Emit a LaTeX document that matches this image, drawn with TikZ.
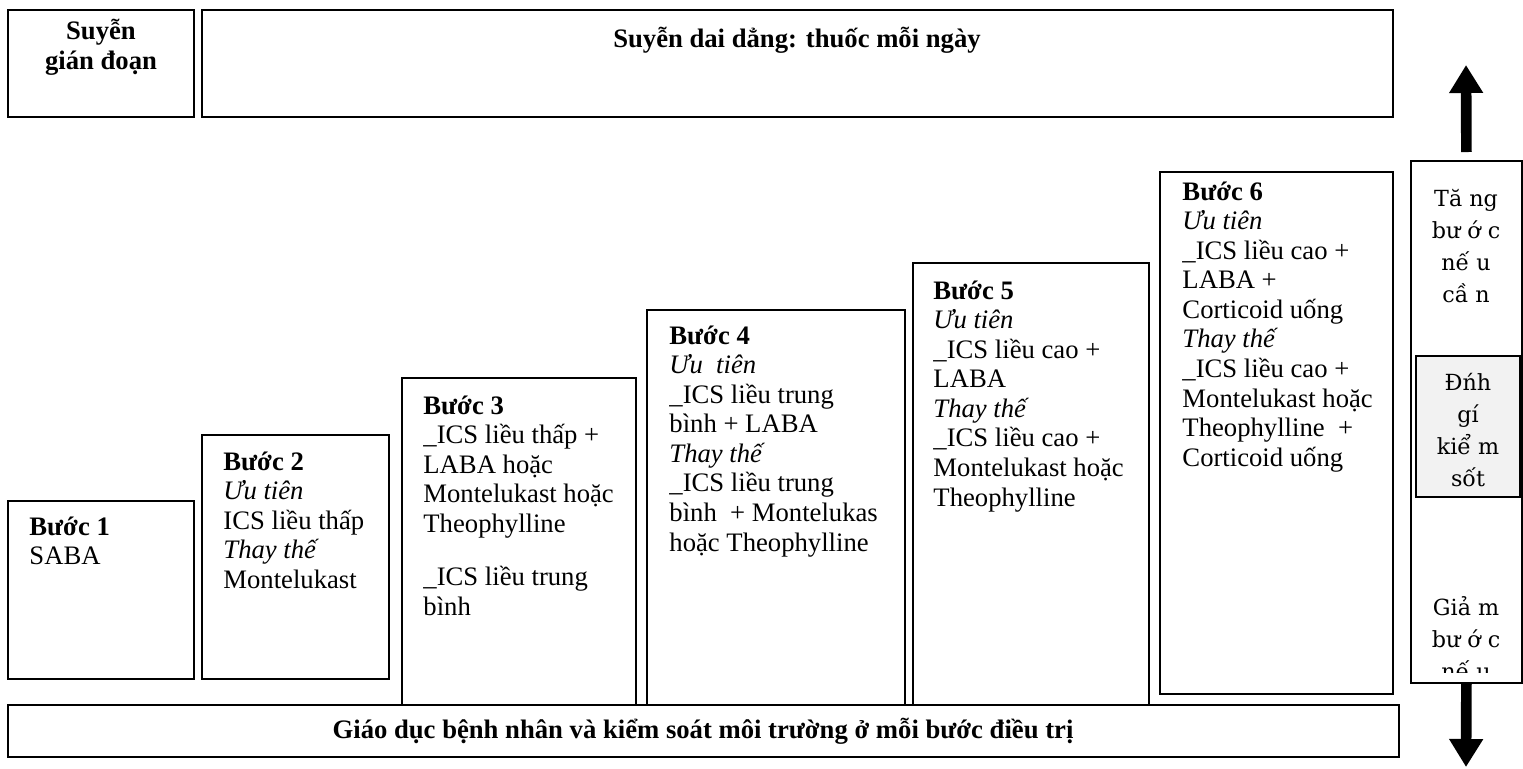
\documentclass[tikz,border=0pt]{standalone}
\usepackage{fontspec}
\setmainfont{Liberation Serif}
\newfontfamily\colfont{DejaVu Serif}
\usetikzlibrary{arrows.meta}

\tikzset{
  box/.style={draw, thick},
  steptxt/.style={anchor=north west, align=left, inner sep=0pt, font=\fontsize{12}{13.3}\selectfont},
  headtxt/.style={align=center, inner sep=0pt, font=\fontsize{12}{13.3}\selectfont\bfseries},
  coltxt/.style={align=center, inner sep=0pt, font=\colfont\fontsize{10}{14.4}\selectfont},
  bigarrow/.style={line width=4.8pt, -{Triangle[width=14.5pt,length=12.6pt]}}
}

\begin{document}
\begin{tikzpicture}[x=0.45pt,y=-0.45pt]
    \useasboundingbox (0,0) rectangle (1523,768);
    % top row
    \draw[box] (8,10) rectangle (194,117);
    \draw[box] (202,10) rectangle (1393,117);
    \node[headtxt] (giandoan) at (101,47) {Suyễn\\gián đoạn};
    \node[headtxt] (daidang) at (797,40) {Suyễn dai dẳng: thuốc mỗi ngày};
    % steps
    \draw[box] (8,501) rectangle (194,679);
    \draw[box] (202,435) rectangle (389,679);
    \draw[box] (402,378) rectangle (636,705);
    \draw[box] (647,310) rectangle (905,705);
    \draw[box] (913,263) rectangle (1149,705);
    \draw[box] (1160,172) rectangle (1393,694);
    \node[steptxt] (buoc1) at (29,514) {\strut\textbf{Bước 1}\\SABA};
    \node[steptxt] (buoc2) at (223,449) {\strut\textbf{Bước 2}\\\textit{Ưu tiên}\\ICS liều thấp\\\textit{Thay thế}\\Montelukast};
    \node[steptxt] (buoc3) at (423,393) {\strut\textbf{Bước 3}\\\_ICS liều thấp +\\LABA hoặc\\Montelukast hoặc\\Theophylline\\[10.6pt]\_ICS liều trung\\bình};
    \node[steptxt] (buoc4) at (669,323) {\strut\textbf{Bước 4}\\\textit{Ưu\ \ tiên}\\\_ICS liều trung\\bình + LABA\\\textit{Thay thế}\\\_ICS liều trung\\bình\ \ + Montelukas\\hoặc Theophylline};
    \node[steptxt] (buoc5) at (933,278) {\strut\textbf{Bước 5}\\\textit{Ưu tiên}\\\_ICS liều cao +\\LABA\\\textit{Thay thế}\\\_ICS liều cao +\\Montelukast hoặc\\Theophylline};
    \node[steptxt] (buoc6) at (1182,179) {\strut\textbf{Bước 6}\\\textit{Ưu tiên}\\\_ICS liều cao +\\LABA +\\Corticoid uống\\\textit{Thay thế}\\\_ICS liều cao +\\Montelukast hoặc\\Theophylline\ \ +\\Corticoid uống};
    % bottom bar
    \draw[box] (8,705) rectangle (1399,757);
    \node[headtxt] (giaoduc) at (703,731) {Giáo dục bệnh nhân và kiểm soát môi trường ở mỗi bước điều trị};
    % right column
    \node[box, anchor=north west, inner sep=0pt, minimum width=49.95pt, minimum height=234.9pt] (col) at (1410,160) {};
    \draw[box, fill=gray!10] (1416,356) rectangle (1520,497);
    \node[coltxt] (tang) at (1466,246) {Tă ng\\bư ớ c\\nế u\\cầ n};
    \node[coltxt] (danhgia) at (1468,430) {Đńh\\gí\\kiể m\\sốt};
    \begin{scope}
      \clip (1412,560) rectangle (1519,672);
      \node[coltxt] (giam) at (1466,638) {Giả m\\bư ớ c\\nế u};
    \end{scope}
    \coordinate (uptip) at (1466,65);
    \coordinate (downtip) at (1466,767);
    \draw[bigarrow] (col.north) ++(0,-8) -- (uptip);
    \draw[bigarrow] (col.south) -- (downtip);
  \end{tikzpicture}
\end{document}
